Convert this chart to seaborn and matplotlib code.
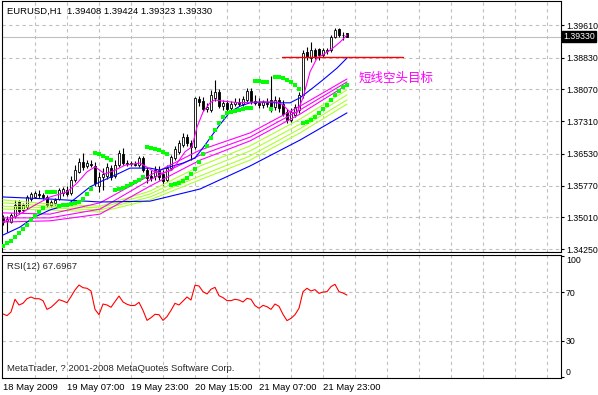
import matplotlib
matplotlib.use("Agg")
import matplotlib.pyplot as plt
from matplotlib.transforms import blended_transform_factory
import seaborn as sns
import pandas as pd
import numpy as np

sns.set_theme(style="white")
plt.rcParams['font.family'] = ['Liberation Sans', 'Noto Sans CJK SC', 'DejaVu Sans']

# EURUSD H1 candles, 18 May 15:00 .. 22 May 05:00
opens = [1.3500, 1.3493, 1.3490, 1.3505, 1.3538, 1.3519, 1.3526, 1.3545, 1.3550, 1.3557,
         1.3555, 1.3550, 1.3531, 1.3536, 1.3545, 1.3559, 1.3567, 1.3559, 1.3591, 1.3610,
         1.3634, 1.3624, 1.3629, 1.3624, 1.3576, 1.3598, 1.3600, 1.3619, 1.3600, 1.3626,
         1.3653, 1.3631, 1.3629, 1.3629, 1.3626, 1.3643, 1.3614, 1.3600, 1.3600, 1.3614,
         1.3605, 1.3591, 1.3619, 1.3643, 1.3658, 1.3674, 1.3693, 1.3679, 1.3670, 1.3784,
         1.3779, 1.3760, 1.3758, 1.3787, 1.3801, 1.3767, 1.3775, 1.3763, 1.3772, 1.3777,
         1.3772, 1.3782, 1.3803, 1.3779, 1.3775, 1.3770, 1.3775, 1.3782, 1.3765, 1.3782,
         1.3772, 1.3753, 1.3734, 1.3746, 1.3758, 1.3794, 1.3896, 1.3882, 1.3901, 1.3904,
         1.3889, 1.3899, 1.3901, 1.3932, 1.3952, 1.3937, 1.39408]
highs = [1.3507, 1.3505, 1.3512, 1.3543, 1.3543, 1.3536, 1.3555, 1.3562, 1.3564, 1.3567,
         1.3559, 1.3555, 1.3543, 1.3548, 1.3571, 1.3574, 1.3576, 1.3600, 1.3626, 1.3643,
         1.3655, 1.3638, 1.3638, 1.3634, 1.3610, 1.3619, 1.3631, 1.3626, 1.3638, 1.3662,
         1.3667, 1.3638, 1.3636, 1.3636, 1.3648, 1.3648, 1.3622, 1.3614, 1.3624, 1.3624,
         1.3614, 1.3626, 1.3650, 1.3672, 1.3686, 1.3703, 1.3701, 1.3686, 1.3789, 1.3791,
         1.3789, 1.3775, 1.3806, 1.3830, 1.3808, 1.3782, 1.3782, 1.3779, 1.3787, 1.3787,
         1.3791, 1.3811, 1.3811, 1.3794, 1.3787, 1.3782, 1.3787, 1.3839, 1.3791, 1.3789,
         1.3782, 1.3760, 1.3763, 1.3772, 1.3801, 1.3901, 1.3908, 1.3920, 1.3906, 1.3906,
         1.3906, 1.3906, 1.3937, 1.3954, 1.3954, 1.3944, 1.39424]
lows = [1.3483, 1.3466, 1.3488, 1.3500, 1.3509, 1.3514, 1.3521, 1.3540, 1.3548, 1.3548,
        1.3545, 1.3526, 1.3526, 1.3531, 1.3543, 1.3552, 1.3552, 1.3555, 1.3586, 1.3607,
        1.3614, 1.3619, 1.3622, 1.3576, 1.3562, 1.3567, 1.3593, 1.3591, 1.3595, 1.3622,
        1.3626, 1.3624, 1.3624, 1.3624, 1.3622, 1.3610, 1.3583, 1.3588, 1.3591, 1.3591,
        1.3579, 1.3586, 1.3614, 1.3638, 1.3653, 1.3670, 1.3672, 1.3638, 1.3665, 1.3767,
        1.3755, 1.3753, 1.3753, 1.3779, 1.3763, 1.3758, 1.3753, 1.3758, 1.3767, 1.3767,
        1.3767, 1.3777, 1.3772, 1.3770, 1.3763, 1.3763, 1.3765, 1.3753, 1.3758, 1.3753,
        1.3744, 1.3727, 1.3729, 1.3741, 1.3751, 1.3787, 1.3877, 1.3873, 1.3880, 1.3877,
        1.3885, 1.3892, 1.3896, 1.3930, 1.3932, 1.3925, 1.39323]
closes = [1.3490, 1.3497, 1.3507, 1.3531, 1.3517, 1.3531, 1.3550, 1.3557, 1.3559, 1.3555,
          1.3550, 1.3531, 1.3538, 1.3543, 1.3567, 1.3569, 1.3557, 1.3591, 1.3614, 1.3634,
          1.3622, 1.3631, 1.3626, 1.3583, 1.3598, 1.3605, 1.3622, 1.3598, 1.3626, 1.3655,
          1.3631, 1.3629, 1.3630, 1.3626, 1.3643, 1.3614, 1.3595, 1.3595, 1.3614, 1.3598,
          1.3588, 1.3619, 1.3646, 1.3665, 1.3679, 1.3693, 1.3679, 1.3670, 1.3787, 1.3777,
          1.3760, 1.3765, 1.3794, 1.3801, 1.3767, 1.3775, 1.3760, 1.3772, 1.3777, 1.3772,
          1.3784, 1.3803, 1.3779, 1.3775, 1.3770, 1.3777, 1.3772, 1.3763, 1.3782, 1.3763,
          1.3748, 1.3734, 1.3753, 1.3765, 1.3794, 1.3894, 1.3885, 1.3901, 1.3887, 1.3889,
          1.3901, 1.3901, 1.3932, 1.3949, 1.3937, 1.3936, 1.39330]

# parabolic SAR dots
sar = [1.3433, 1.3440, 1.3445, 1.3454, 1.3464, 1.3474, 1.3483, 1.3495, 1.3505, 1.3514,
       1.3524, 1.3562, 1.3562, 1.3562, 1.3528, 1.3531, 1.3531, 1.3533, 1.3536, 1.3538,
       1.3545, 1.3557, 1.3569, 1.3655, 1.3653, 1.3648, 1.3643, 1.3638, 1.3567, 1.3569,
       1.3571, 1.3576, 1.3581, 1.3586, 1.3591, 1.3598, 1.3670, 1.3667, 1.3665, 1.3662,
       1.3658, 1.3653, 1.3579, 1.3581, 1.3583, 1.3588, 1.3595, 1.3605, 1.3617, 1.3634,
       1.3653, 1.3672, 1.3691, 1.3710, 1.3727, 1.3741, 1.3751, 1.3753, 1.3755, 1.3758,
       1.3760, 1.3763, 1.3763, 1.3827, 1.3827, 1.3825, 1.3825, 1.3760, 1.3837, 1.3837,
       1.3834, 1.3830, 1.3825, 1.3818, 1.3808, 1.3727, 1.3729, 1.3734, 1.3741, 1.3751,
       1.3760, 1.3770, 1.3782, 1.3794, 1.3803, 1.3813, 1.3818]

# RSI(12)
rsi = [52.1, 50.7, 53.7, 64.2, 59.5, 60.9, 64.7, 66.1, 64.7, 64.7,
       63.1, 55.9, 57.6, 60.6, 63.9, 62.8, 61.4, 66.4, 71.9, 76.0,
       73.8, 73.3, 71.1, 55.9, 51.5, 60.3, 59.5, 57.6, 62.3, 66.9,
       62.0, 60.1, 59.0, 59.2, 61.7, 55.1, 46.8, 49.0, 51.8, 51.5,
       46.8, 49.9, 55.1, 60.9, 59.5, 62.8, 66.1, 63.6, 75.8, 75.2,
       70.5, 68.6, 72.5, 74.1, 67.2, 65.6, 63.1, 63.1, 64.2, 63.6,
       62.0, 65.0, 64.2, 59.0, 56.8, 59.2, 58.1, 55.9, 60.3, 58.4,
       51.8, 46.6, 48.5, 51.5, 56.8, 70.5, 73.3, 71.1, 72.2, 69.1,
       70.2, 70.5, 74.7, 76.6, 70.5, 69.4, 67.6967]

# fast moving averages (bar, price)
fast_ma_bars = [0, 3.5, 7.5, 11.75, 16, 18.5, 21, 23, 25.5, 28, 30.5, 34.25, 35.5, 37.5, 39.75,
                42.25, 43.75, 45.5, 47.25, 48.5, 50, 51.75, 53, 55, 59.25, 63.5, 68.5, 70, 71.75,
                73.5, 75, 76.75, 78.5, 81, 82.5, 84.25, 86]
fast_ma = [1.3490, 1.3505, 1.3528, 1.3550, 1.3562, 1.3583, 1.3610, 1.3622, 1.3605, 1.3614,
           1.3626, 1.3631, 1.3624, 1.3612, 1.3607, 1.3614, 1.3634, 1.3658, 1.3670, 1.3717,
           1.3753, 1.3775, 1.3782, 1.3779, 1.3775, 1.3777, 1.3777, 1.3770, 1.3753, 1.3751,
           1.3787, 1.3849, 1.3882, 1.3896, 1.3906, 1.3920, 1.3937]
blue_ma_bars = [0, 4.25, 7.5, 11.75, 16, 19.25, 21.75, 24.25, 28, 31.75, 36.75, 39.25, 41.75, 45,
                48, 50.5, 53.75, 56.75, 59.25, 61.75, 65, 68.5, 71.75, 74.25, 77.5, 80, 83.5, 86]
blue_ma = [1.3459, 1.3478, 1.3500, 1.3519, 1.3531, 1.3555, 1.3574, 1.3586, 1.3602, 1.3619,
           1.3619, 1.3614, 1.3622, 1.3631, 1.3643, 1.3674, 1.3717, 1.3753, 1.3767, 1.3775,
           1.3777, 1.3775, 1.3775, 1.3787, 1.3811, 1.3830, 1.3858, 1.3882]

# slower ribbon
ribbon_bars = [0, 11.75, 24.25, 36.75, 49.25, 61.75, 74.25, 86]
ribbon_m1 = [1.3512, 1.3509, 1.3536, 1.3602, 1.3662, 1.3703, 1.3767, 1.3832]
ribbon_m2 = [1.3500, 1.3500, 1.3521, 1.3591, 1.3650, 1.3693, 1.3758, 1.3825]
ribbon_m3 = [1.3490, 1.3493, 1.3509, 1.3576, 1.3638, 1.3684, 1.3748, 1.3818]
ribbon_g1 = [1.3543, 1.3533, 1.3528, 1.3564, 1.3624, 1.3672, 1.3736, 1.3806]
ribbon_g2 = [1.3536, 1.3528, 1.3524, 1.3557, 1.3612, 1.3660, 1.3724, 1.3794]
ribbon_g3 = [1.3528, 1.3524, 1.3519, 1.3550, 1.3600, 1.3648, 1.3713, 1.3782]
ribbon_g4 = [1.3521, 1.3519, 1.3514, 1.3543, 1.3591, 1.3638, 1.3703, 1.3772]
slow_blue = [1.3550, 1.3545, 1.3538, 1.3540, 1.3569, 1.3624, 1.3686, 1.3751]

target_bars = [69.75, 100]
target_level = 1.3884
bid = 1.39330

price_ticks = [1.39610, 1.38830, 1.38070, 1.37310, 1.36530, 1.35770, 1.35010, 1.34250]
rsi_ticks = [0, 30, 70, 100]
rsi_levels = [30, 70]
date_bars = [0, 16, 32, 48, 64, 80]
date_labels = ['18 May 2009', '19 May 07:00', '19 May 23:00', '20 May 15:00',
               '21 May 07:00', '21 May 23:00']
grid_bars = list(range(8, 137, 8))

MAGENTA = '#ff00ff'
BLUE = '#0000ff'
LIME = '#adff2f'
GRID = '#c0c0c0'
FS = 6.8
AXFS = 6.3

fig = plt.figure(figsize=(5.98, 3.95), dpi=100)
ax = fig.add_axes([2 / 598, 1 - 252 / 395, 559 / 598, 251 / 395])
ax_rsi = fig.add_axes([2 / 598, 1 - 378 / 395, 559 / 598, 123 / 395])

bars = np.arange(len(closes))
o = np.array(opens); c = np.array(closes)

# candles
ax.vlines(bars, lows, highs, colors='black', linewidth=0.8, zorder=2)
ax.bar(bars, np.abs(c - o), bottom=np.minimum(o, c), width=0.6,
       color=np.where(c >= o, 'white', 'black'), edgecolor='black', linewidth=0.6, zorder=2.5)

# indicator lines
frames = []
for name, xs, ys in [('g4', ribbon_bars, ribbon_g4), ('g3', ribbon_bars, ribbon_g3),
                     ('g2', ribbon_bars, ribbon_g2), ('g1', ribbon_bars, ribbon_g1),
                     ('m3', ribbon_bars, ribbon_m3), ('m2', ribbon_bars, ribbon_m2),
                     ('m1', ribbon_bars, ribbon_m1), ('slow', ribbon_bars, slow_blue),
                     ('blue', blue_ma_bars, blue_ma), ('fast', fast_ma_bars, fast_ma)]:
    frames.append(pd.DataFrame({'bar': xs, 'price': ys, 'line': name}))
ma_df = pd.concat(frames, ignore_index=True)
palette = {'g1': LIME, 'g2': LIME, 'g3': LIME, 'g4': LIME, 'm1': MAGENTA, 'm2': MAGENTA,
           'm3': MAGENTA, 'slow': BLUE, 'blue': BLUE, 'fast': MAGENTA}
sns.lineplot(data=ma_df, x='bar', y='price', hue='line', palette=palette, estimator=None,
             sort=False, legend=False, linewidth=0.8, ax=ax, zorder=3)

sns.scatterplot(x=bars, y=sar, color='#00ff00', marker='s', s=7, linewidth=0, ax=ax, zorder=4)
sns.lineplot(x=target_bars, y=[target_level] * 2, color='#ff0000', linewidth=1.0, ax=ax, zorder=3)
ax.axhline(bid, color=GRID, linewidth=0.8, zorder=1)

ax.text(89, 1.3834, '短线空头目标', color=MAGENTA, fontsize=9,
        family=['Noto Sans CJK SC', 'DejaVu Sans'], va='center', ha='left')
ax.text(0.009, 0.96, 'EURUSD,H1  1.39408 1.39424 1.39323 1.39330', transform=ax.transAxes,
        fontsize=FS, va='center', ha='left', color='black')

ax.set_xlim(-0.25, 139.5)
ax.set_ylim(1.341847, 1.401836)
ax.yaxis.tick_right()
ax.set_yticks(price_ticks, labels=[f'{p:.5f}' for p in price_ticks])
ax.set_xticks([])
ax.set_xticks(grid_bars, minor=True)
ax.grid(axis='y', which='major', linestyle=(0, (3, 3)), color=GRID, linewidth=0.8)
ax.grid(axis='x', which='minor', linestyle=(0, (3, 3)), color=GRID, linewidth=0.8)
ax.tick_params(axis='y', length=2.5, width=0.8, pad=1.0, labelsize=AXFS, colors='black')
ax.tick_params(axis='x', which='minor', length=0)
ax.set_xlabel(''); ax.set_ylabel('')

tr = blended_transform_factory(ax.transAxes, ax.transData)
ax.text(1.0035, bid, f'{bid:.5f}', transform=tr, fontsize=AXFS, color='white', va='center',
        ha='left', bbox=dict(boxstyle='square,pad=0.12', facecolor='black', edgecolor='black'))

# RSI panel
sns.lineplot(x=bars, y=rsi, color='red', linewidth=0.8, ax=ax_rsi)
for lvl in rsi_levels:
    ax_rsi.axhline(lvl, linestyle=(0, (3, 3)), color=GRID, linewidth=0.8, zorder=0)
ax_rsi.set_xlim(-0.25, 139.5)
ax_rsi.set_ylim(-0.8, 100.8)
ax_rsi.yaxis.tick_right()
ax_rsi.set_yticks(rsi_ticks, labels=[str(t) for t in rsi_ticks])
ylabels = ax_rsi.get_yticklabels()
ylabels[0].set_va('bottom')
ylabels[-1].set_va('top')
ax_rsi.xaxis.remove_overlapping_locs = False
ax_rsi.set_xticks(date_bars, labels=date_labels)
for lbl in ax_rsi.get_xticklabels():
    lbl.set_ha('left')
ax_rsi.set_xticks(grid_bars, minor=True)
ax_rsi.grid(axis='x', which='minor', linestyle=(0, (3, 3)), color=GRID, linewidth=0.8)
ax_rsi.tick_params(axis='both', which='major', length=2.5, width=0.8, pad=1.0,
                   labelsize=AXFS, colors='black')
ax_rsi.tick_params(axis='x', which='major', labelsize=FS)
ax_rsi.tick_params(axis='x', which='minor', length=0)
ax_rsi.set_xlabel(''); ax_rsi.set_ylabel('')
ax_rsi.text(0.009, 0.91, 'RSI(12) 67.6967', transform=ax_rsi.transAxes, fontsize=FS,
            va='center', ha='left')
ax_rsi.text(0.009, 0.075, 'MetaTrader, ? 2001-2008 MetaQuotes Software Corp.',
            transform=ax_rsi.transAxes, fontsize=FS, va='center', ha='left')

for a in (ax, ax_rsi):
    for sp in a.spines.values():
        sp.set_color('black')
        sp.set_linewidth(0.8)

fig.savefig('out.png', dpi=100)
